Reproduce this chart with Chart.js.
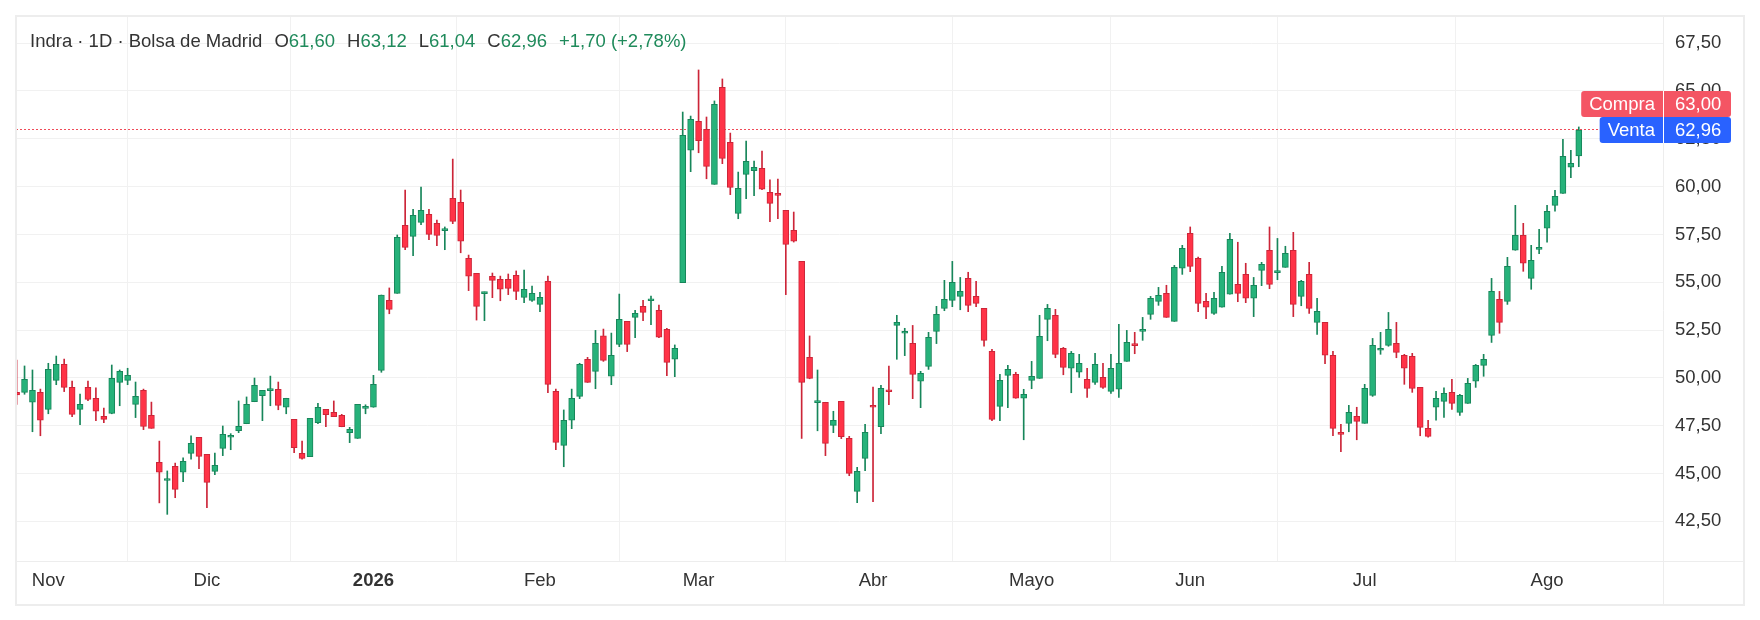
<!DOCTYPE html>
<html><head><meta charset="utf-8">
<script src="https://cdn.jsdelivr.net/npm/chart.js@4.4.1/dist/chart.umd.min.js"></script>
<style>html,body{margin:0;padding:0;background:#fff}#wrap{width:1760px;height:620px}</style>
</head><body><div id="wrap"><canvas id="c" width="1760" height="620"></canvas></div>
<script>
// Daily candles, index 0 = 28 Oct 2025 ... index 197 = 7 Aug 2026
const opens=[49.24,49.24,48.72,49.24,48.35,49.87,50.70,49.50,48.35,49.50,48.93,47.98,48.14,49.76,49.87,48.61,49.34,48.04,45.58,44.63,45.37,45.06,46.05,46.89,46.00,
45.11,46.31,46.89,47.23,47.60,48.75,49.07,49.33,49.40,48.46,47.83,46.05,45.88,47.65,48.35,48.19,48.04,47.13,46.83,48.40,48.46,50.39,54.05,54.42,57.97,
57.40,58.13,58.55,58.08,57.70,59.39,59.18,56.25,55.46,54.40,55.31,55.15,55.15,55.36,54.21,54.05,53.84,55.05,49.29,46.47,47.78,49.03,50.97,50.34,52.19,
50.08,51.75,52.95,53.16,53.74,54.03,53.53,52.53,50.97,54.98,61.90,63.41,62.99,60.12,65.19,62.32,58.60,60.64,60.83,60.96,59.70,59.65,58.76,57.71,56.09,
51.07,48.70,48.72,47.51,48.77,46.83,44.06,45.79,48.56,47.44,49.31,52.74,52.33,51.80,49.82,50.60,52.43,53.63,54.05,54.26,55.20,54.26,53.63,51.38,48.51,
50.13,50.18,48.93,49.87,49.97,53.06,53.27,51.54,50.50,50.29,49.92,49.76,50.02,49.29,49.40,50.86,51.72,52.43,53.32,54.00,54.42,52.95,55.73,57.56,56.25,
54.00,53.37,53.69,54.37,54.89,55.41,54.16,55.62,56.67,55.50,55.78,56.67,54.26,55.41,52.90,52.90,51.18,47.15,47.62,47.98,47.62,49.08,51.44,51.70,51.80,
51.18,51.12,49.50,47.36,48.46,48.77,49.24,48.19,48.66,49.82,50.65,52.22,54.10,54.00,56.67,57.45,55.20,56.72,57.82,59.02,59.65,61.01,61.60];
const highs=[50.93,50.62,50.41,49.41,50.76,51.14,50.98,49.83,49.15,49.83,49.47,48.42,50.67,50.41,50.50,49.78,49.41,48.73,46.69,45.13,45.54,45.81,46.96,46.89,46.00,
46.07,47.48,47.08,48.79,49.00,49.99,49.34,50.09,49.78,48.93,47.83,46.69,47.88,48.66,48.35,48.79,48.09,47.41,48.61,48.59,50.13,54.33,54.70,57.47,59.82,
58.81,59.98,58.81,58.25,57.89,61.44,59.82,56.42,55.46,54.49,55.48,55.32,55.43,55.59,55.64,54.80,54.47,55.32,49.41,48.32,49.41,50.76,51.07,52.48,52.55,
52.34,54.38,52.95,53.53,54.05,54.28,53.81,52.59,51.72,63.90,63.69,66.10,63.64,64.48,65.63,62.80,60.76,62.38,61.34,61.86,60.35,60.40,58.76,58.67,56.09,
52.19,50.41,48.72,48.25,48.77,46.94,45.32,47.57,49.52,49.61,50.62,53.27,52.59,52.74,50.34,52.38,53.74,55.10,56.09,55.25,55.52,55.05,53.63,51.49,50.18,
50.65,50.29,49.40,50.86,53.27,53.84,53.58,51.59,51.38,51.23,50.50,51.28,50.76,51.23,52.80,52.48,52.38,53.16,54.26,54.73,54.84,55.88,56.93,57.89,56.32,
54.42,54.47,55.83,57.56,57.09,55.99,55.25,56.04,57.89,57.29,56.88,57.61,55.10,56.04,54.16,52.90,51.38,47.57,48.56,48.46,49.66,52.06,52.38,53.42,52.90,
51.23,51.28,49.50,47.78,49.29,49.47,49.92,49.14,49.97,50.70,51.23,55.20,54.52,56.30,59.02,58.08,56.93,57.77,59.02,59.80,62.47,61.90,63.12];
const lows=[48.61,49.14,47.18,46.97,48.12,49.64,49.28,47.97,47.55,48.80,47.76,47.65,48.12,48.54,49.64,47.92,47.29,47.36,43.46,42.86,43.73,44.57,45.74,45.25,43.21,
44.93,45.93,46.24,47.13,47.60,48.75,47.76,48.54,48.33,48.12,46.08,45.74,45.88,47.60,47.44,47.97,47.44,46.61,46.83,48.12,48.46,50.29,53.35,54.42,56.70,
56.39,58.01,57.22,56.91,56.70,58.06,56.54,54.56,53.02,52.99,54.19,54.03,54.35,54.09,53.93,54.00,53.46,49.22,46.24,45.35,47.34,48.91,49.76,49.43,50.86,
49.64,51.63,51.37,52.10,52.99,52.78,52.10,50.11,50.06,54.98,60.78,61.77,60.41,60.12,61.20,59.58,58.32,59.37,59.53,59.84,58.17,58.32,54.35,57.10,46.83,
49.95,47.23,45.93,47.13,46.82,44.88,43.47,45.14,43.52,47.08,48.59,50.97,51.16,48.91,48.44,50.44,51.79,53.51,53.72,53.56,53.46,53.72,51.65,47.76,47.76,
48.44,48.93,46.76,49.43,49.97,51.94,51.05,50.16,49.22,50.02,48.98,49.66,49.45,49.19,48.98,50.86,51.26,51.96,53.06,53.79,53.16,52.95,55.41,55.55,53.46,
53.09,53.32,53.69,54.37,53.98,53.93,53.20,54.82,54.66,55.13,55.78,53.20,53.77,53.37,52.27,50.74,46.97,46.14,47.18,46.76,47.62,49.03,51.23,51.65,51.05,
49.66,49.24,46.97,46.89,47.78,47.93,48.35,48.04,48.66,49.50,50.08,51.85,52.33,53.84,56.67,55.57,54.63,56.49,57.09,58.71,59.65,60.47,61.04];
const closes=[49.10,49.92,49.34,47.78,50.44,50.70,49.50,48.09,48.61,48.87,48.25,47.83,49.97,50.34,50.13,49.03,47.46,47.36,45.06,44.66,44.17,45.63,46.57,45.89,44.53,
45.42,47.04,46.99,47.46,48.61,49.61,49.34,49.36,48.56,48.93,46.35,45.79,47.88,48.46,48.07,47.97,47.44,47.30,48.61,48.51,49.66,54.33,53.58,57.35,56.82,
58.50,58.76,57.50,57.45,57.73,58.18,57.14,55.31,53.74,54.44,55.10,54.63,54.68,54.52,54.63,54.42,54.21,49.66,46.62,47.78,48.93,50.70,49.76,51.80,50.91,
51.18,53.06,51.75,53.37,53.42,54.07,52.12,50.81,51.54,62.68,63.52,62.40,61.06,64.30,61.48,59.96,59.91,61.32,61.01,59.86,59.12,59.54,56.98,57.14,49.76,
49.97,48.73,46.57,47.78,46.92,45.00,45.11,47.15,48.46,49.45,49.27,52.90,52.36,50.18,50.23,52.12,53.32,54.10,54.99,54.52,53.79,53.89,51.96,47.83,49.87,
50.44,48.93,49.14,50.08,52.17,53.63,51.23,50.55,51.28,50.76,49.45,50.70,49.50,50.50,50.76,51.85,51.68,52.53,54.16,54.31,53.16,55.78,56.77,55.83,53.89,
53.69,54.16,55.52,57.24,54.42,54.16,54.84,55.93,54.89,55.53,56.51,53.84,55.05,53.63,53.48,51.18,47.36,47.04,48.19,47.72,49.45,51.70,51.54,52.53,51.33,
50.50,49.45,47.41,46.94,48.93,49.19,48.66,49.08,49.71,50.65,50.97,54.52,52.90,55.83,57.45,55.99,56.14,56.77,58.71,59.49,61.58,61.22,62.96];

const monthStarts=[4,24,45,66,86,108,128,148,170,193];
const monthLabels=['Nov','Dic','2026','Feb','Mar','Abr','Mayo','Jun','Jul','Ago'];
const yTicks=[42.5,45,47.5,50,52.5,55,57.5,60,62.5,65,67.5];
const askPrice=63.00, bidPrice=62.96;
const titleParts=[['Indra · 1D · Bolsa de Madrid','d'],['O','d'],['61,60','g'],['H','d'],['63,12','g'],['L','d'],['61,04','g'],['C','d'],['62,96','g'],['+1,70 (+2,78%)','g']];

const FONT='"Liberation Sans", Arial, sans-serif';
const FS=18.5;
const UP='#26b27a', UPB='#17865a', DN='#ff3347', DNB='#cc2538';
const GRID='#f1f1f1', CLEAR='rgba(0,0,0,0)';
const idx=opens.map((_,i)=>i);
const isUp=i=>closes[i]>=opens[i];
const fmt=v=>v.toFixed(2).replace('.',',');

const overlay={id:'overlay',
 beforeDatasetsDraw(chart){
  const {ctx,chartArea:a,scales:{y}}=chart;
  const py=Math.round(y.getPixelForValue(askPrice))+0.5;
  ctx.save();ctx.strokeStyle='#f04a58';ctx.lineWidth=1;ctx.setLineDash([2,2]);
  ctx.beginPath();ctx.moveTo(a.left,py);ctx.lineTo(1602,py);ctx.stroke();ctx.restore();
 },
 afterDraw(chart){
  const {ctx,chartArea:a,scales:{y}}=chart;
  ctx.save();
  ctx.strokeStyle='#ededed';ctx.lineWidth=2;ctx.strokeRect(16,16,1728,589);
  ctx.lineWidth=1;ctx.beginPath();
  ctx.moveTo(a.right+0.5,16);ctx.lineTo(a.right+0.5,605);
  ctx.moveTo(16,a.bottom+0.5);ctx.lineTo(1744,a.bottom+0.5);ctx.stroke();
  // title
  ctx.font=FS+'px '+FONT;ctx.textBaseline='middle';ctx.textAlign='left';
  let x=30;
  titleParts.forEach((p,i)=>{
    ctx.fillStyle=p[1]==='g'?'#1f8a5b':'#333333';
    ctx.fillText(p[0],x,42);
    x+=ctx.measureText(p[0]).width;
    const nxt=titleParts[i+1];
    if(nxt && !(p[1]==='d'&&nxt[1]==='g'&&i>0)) x+=12;
  });
  // price tags
  const yc=y.getPixelForValue(bidPrice);
  const tag=(top,color,lt,rt)=>{
    const tw=ctx.measureText(lt).width;
    const left=a.right-8-tw-8;
    ctx.fillStyle=color;ctx.beginPath();ctx.roundRect(left,top,1731-left,26,3);ctx.fill();
    ctx.strokeStyle='#ffffff';ctx.lineWidth=1;ctx.beginPath();ctx.moveTo(a.right+0.5,top);ctx.lineTo(a.right+0.5,top+26);ctx.stroke();
    ctx.fillStyle='#ffffff';ctx.textAlign='right';ctx.fillText(lt,a.right-8,top+14);
    ctx.textAlign='left';ctx.fillText(rt,a.right+12,top+14);
  };
  tag(Math.round(yc-39),'#f45564','Compra',fmt(askPrice));
  tag(Math.round(yc-13),'#2962ff','Venta',fmt(bidPrice));
  ctx.restore();
 }};

new Chart(document.getElementById('c'),{
 type:'bar',
 data:{datasets:[
  {label:'wick',data:idx.map(i=>({x:i,y:[lows[i],highs[i]]})),barThickness:1,
   backgroundColor:idx.map(i=>isUp(i)?UPB:DNB),borderWidth:0,grouped:false,order:2,clip:0},
  {label:'body',data:idx.map(i=>({x:i,y:[opens[i],closes[i]]})),barThickness:6,minBarLength:2,
   backgroundColor:idx.map(i=>isUp(i)?UP:DN),borderColor:idx.map(i=>isUp(i)?UPB:DNB),
   borderWidth:1,borderSkipped:false,grouped:false,order:1,clip:0}
 ]},
 options:{responsive:false,devicePixelRatio:1,animation:false,
  layout:{padding:{left:16,top:17,right:16,bottom:15}},
  plugins:{legend:{display:false},tooltip:{enabled:false}},
  events:[],
  scales:{
   x:{type:'linear',min:-0.076,max:207.62,offset:false,
    afterBuildTicks:s=>{s.ticks=monthStarts.map(v=>({value:v}));},
    afterFit:s=>{s.height=44;s.paddingLeft=0;s.paddingRight=0;},
    grid:{color:c=>(c.tick&&monthStarts.includes(c.tick.value))?GRID:CLEAR,lineWidth:1,drawTicks:false},border:{display:false},
    ticks:{autoSkip:false,maxRotation:0,padding:9,color:'#333333',
     font:c=>({family:FONT,size:FS,weight:(c.tick&&c.tick.value===45)?'bold':'normal'}),
     callback:v=>{const k=monthStarts.indexOf(v);return k>=0?monthLabels[k]:'';}}},
   y:{type:'linear',position:'right',min:40.42,max:68.87,
    afterBuildTicks:s=>{s.ticks=yTicks.map(v=>({value:v}));},
    afterFit:s=>{s.width=81;s.paddingTop=0;s.paddingBottom=0;},
    grid:{color:c=>(c.tick&&yTicks.includes(c.tick.value))?GRID:CLEAR,lineWidth:1,drawTicks:false},border:{display:false},
    ticks:{padding:12,color:'#333333',font:{family:FONT,size:FS},callback:v=>fmt(v)}}
  }},
 plugins:[overlay]
});
</script></body></html>
